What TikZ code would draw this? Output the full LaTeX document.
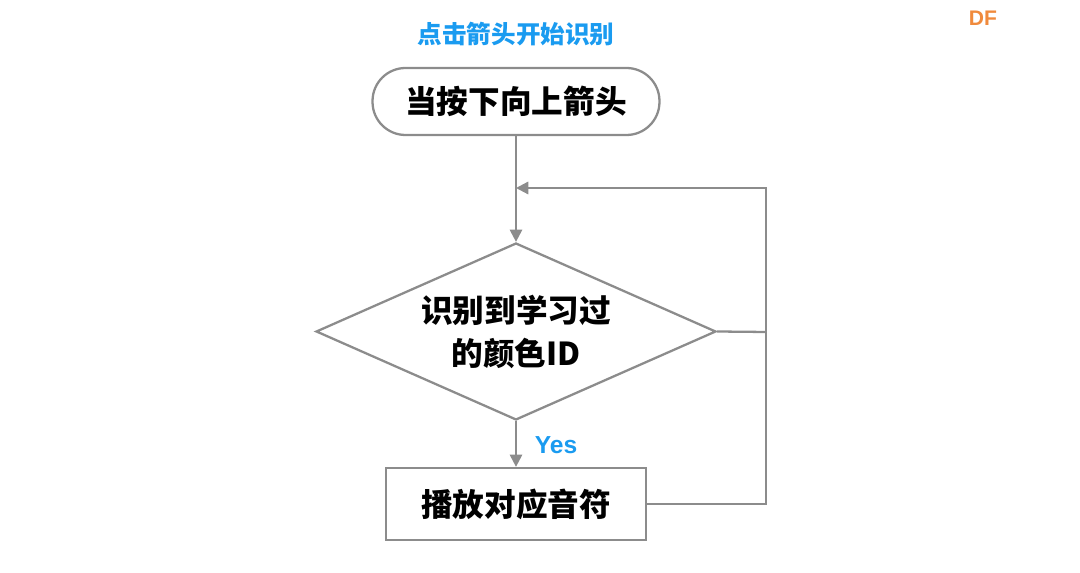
\documentclass[tikz,border=0pt]{standalone}
\usepackage{fontspec}
\setmainfont{Liberation Sans}
\newfontfamily\cjk{Noto Sans CJK SC}
\usetikzlibrary{shapes.geometric,arrows.meta}
\definecolor{gl}{HTML}{8C8C8C}
\definecolor{bl}{HTML}{1A9BF0}
\definecolor{og}{HTML}{F08A3C}
\begin{document}
\begin{tikzpicture}[x=0.02cm,y=-0.02cm,
  ln/.style={draw=gl,line width=1.3pt},
  arr/.style={ln,-{Triangle[length=7pt,width=7pt]}},
  txt/.style={font=\cjk\fontsize{18}{24}\selectfont\bfseries,text=black}]
\useasboundingbox (0,0) rectangle (1080,573);
\node[font=\cjk\fontsize{14}{17}\selectfont\bfseries,text=bl] (title) at (516,34) {点击箭头开始识别};
\node[font=\fontsize{12}{14}\selectfont\bfseries,text=og] (df) at (983,18) {DF};
\node[ln,rounded corners=0.66cm,minimum width=5.74cm,minimum height=1.34cm,txt] (start) at (516,101.5) {当按下向上箭头};
\node[ln,diamond,aspect=2.26,minimum width=8cm,minimum height=3.54cm,inner sep=0pt] (dec) at (516,331.5) {};
\node[txt,align=center] (dect) at (516,332) {识别到学习过\\的颜色ID};
\node[ln,minimum width=5.2cm,minimum height=1.44cm,txt] (play) at (516,504) {播放对应音符};
\coordinate (j) at (516,188);
\coordinate (c1) at (766,504);
\coordinate (c2) at (766,188);
\coordinate (c3) at (766,332);
\draw[ln] (start.south) -- (j);
\draw[arr] (j) -- (dec.north);
\draw[arr] (dec.south) -- (play.north);
\node[font=\fontsize{14}{17}\selectfont\bfseries,text=bl] (yes) at (556,445) {Yes};
\draw[arr] (play.east) -- (c1) -- (c2) -- (j);
\draw[ln] (dec.east) -- (c3);
\end{tikzpicture}
\end{document}
